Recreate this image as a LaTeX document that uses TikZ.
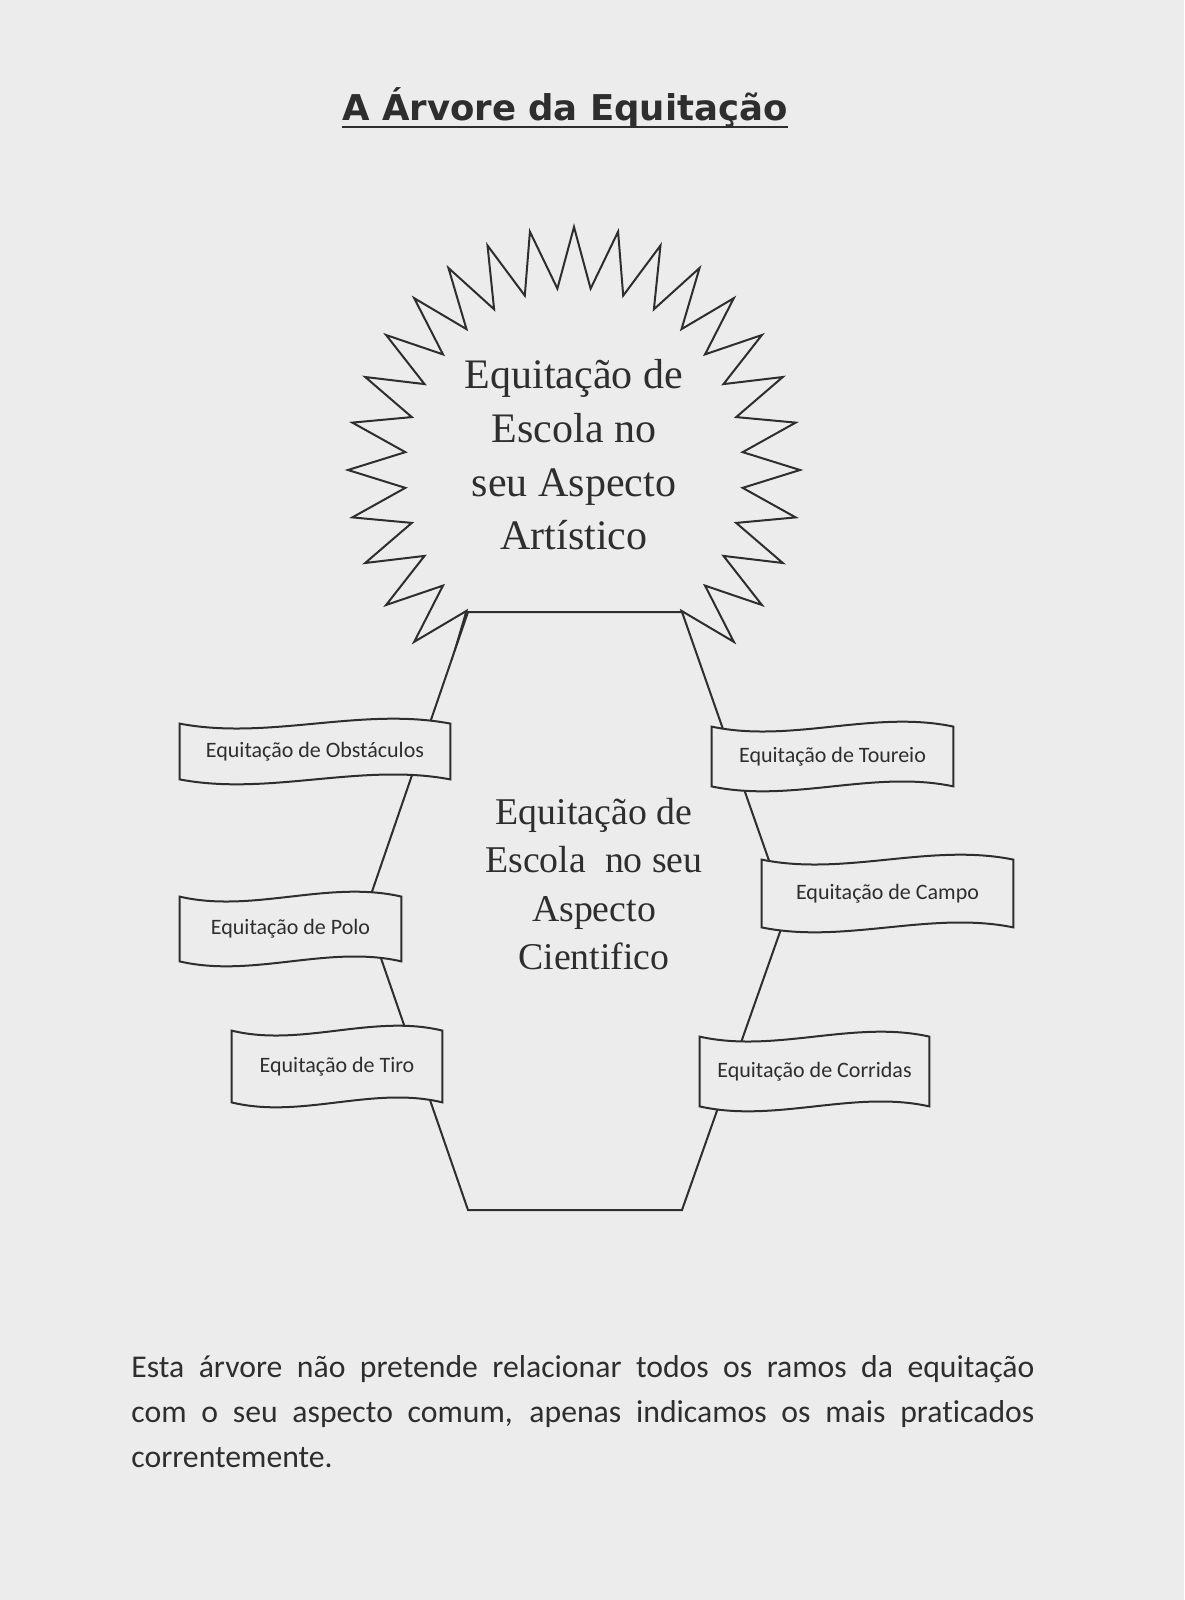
\documentclass[tikz,border=0pt]{standalone}
\usepackage{fontspec}
\setmainfont{Liberation Serif}
\newfontfamily\calibri[Ligatures=NoCommon]{Carlito}
\newfontfamily\titlefont{DejaVu Sans}
\usetikzlibrary{calc}
\definecolor{paper}{gray}{0.925}
\definecolor{ink}{HTML}{2E2E2E}
\pgfdeclarelayer{back}
\pgfdeclarelayer{ribbons}
\pgfsetlayers{back,ribbons,main}
\tikzset{
  outline/.style={draw=ink, line width=1pt, fill=paper},
  ribbon/.style={inner sep=0pt, text=ink, font=\calibri\fontsize{11}{13}\selectfont},
  bigtext/.style={align=center, text=ink, inner sep=0pt}
}

\begin{document}
\begin{tikzpicture}[x=0.5pt, y=-0.5pt]
\useasboundingbox (0,0) rectangle (1184,1600);

\begin{pgfonlayer}{back}
\fill[paper] (0,0) rectangle (1184,1600);
% star and trunk
\draw[outline, shift={(574,470)}] (0:226 and 243)
  \foreach \i in {0,...,31} { -- ({11.25*\i}:226 and 243) -- ({11.25*\i+5.625}:169.5 and 182.25) } -- cycle;
\coordinate (h1) at (468,612);
\coordinate (h2) at (682,612);
\coordinate (h3) at (787,912);
\coordinate (h4) at (682,1210);
\coordinate (h5) at (468,1210);
\coordinate (h6) at (365,912);
\draw[outline] (h1) -- (h2) -- (h3) -- (h4) -- (h5) -- (h6) -- cycle;
\end{pgfonlayer}

% title
\node[anchor=base, text=ink, inner sep=0pt, font=\titlefont\bfseries\fontsize{17.75}{20}\selectfont] (title) at (565,120) {A Árvore da Equitação};
\draw[ink, line width=1.3pt] ($(title.base west)+(0,7)$) -- ($(title.base east)+(0,7)$);

\node[bigtext, font=\fontsize{21}{26.8}\selectfont] (artistico) at (574,455) {Equitação de\\Escola no\\seu Aspecto\\Artístico};
\node[bigtext, font=\fontsize{18.9}{24.15}\selectfont] (cientifico) at (594,884) {Equitação de\\Escola\ \ no seu\\Aspecto\\Cientifico};

% branches
\node[ribbon, minimum width=135pt, minimum height=27.5pt] (obstaculos) at (315,751.5) {Equitação de Obstáculos};
\node[ribbon, minimum width=110.5pt, minimum height=32pt] (polo) at (290.5,929) {Equitação de Polo};
\node[ribbon, minimum width=105pt, minimum height=35.5pt] (tiro) at (337,1066.5) {Equitação de Tiro};
\node[ribbon, minimum width=120.5pt, minimum height=29.5pt] (toureio) at (832.5,756.5) {Equitação de Toureio};
\node[ribbon, minimum width=125.5pt, minimum height=33.5pt] (campo) at (887.5,893.5) {Equitação de Campo};
\node[ribbon, minimum width=114.5pt, minimum height=34.5pt] (corridas) at (814.5,1071.5) {Equitação de Corridas};

\begin{pgfonlayer}{ribbons}
\foreach \r in {obstaculos,polo,tiro,toureio,campo,corridas}
  \draw[outline] (\r.north west)
    .. controls ($(\r.north west)!0.33!(\r.north east)+(0,17)$) and ($(\r.north east)!0.33!(\r.north west)+(0,-17)$) .. (\r.north east)
    -- (\r.south east)
    .. controls ($(\r.south east)!0.33!(\r.south west)+(0,-17)$) and ($(\r.south west)!0.33!(\r.south east)+(0,17)$) .. (\r.south west)
    -- cycle;
\end{pgfonlayer}

\node[anchor=base west, text=ink, inner sep=0pt, align=left, font=\calibri\fontsize{15.85}{22.5}\selectfont] (nota) at (131,1467)
  {\makebox[451.5pt][s]{Esta árvore não pretende relacionar todos os ramos da equitação}\\
   \makebox[451.5pt][s]{com o seu aspecto comum, apenas indicamos os mais praticados}\\
   correntemente.};
\end{tikzpicture}
\end{document}
